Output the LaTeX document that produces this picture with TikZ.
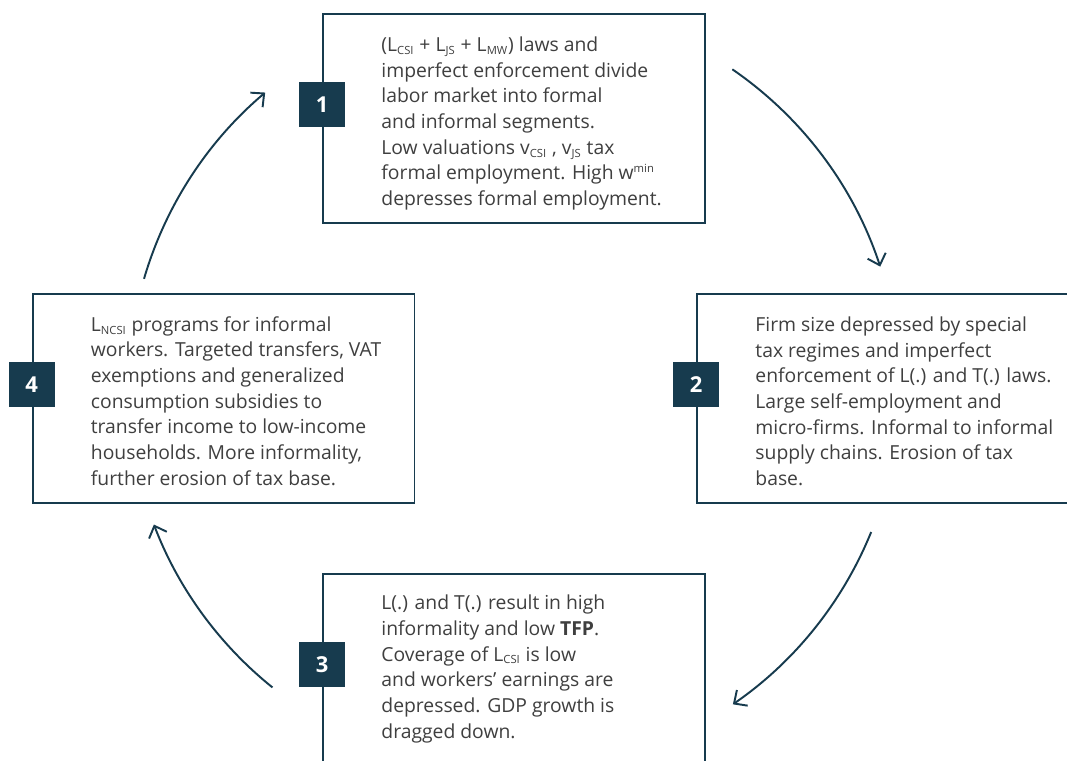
\documentclass[tikz,border=0pt]{standalone}
\usepackage{fontspec}
\setmainfont{Open Sans}
\usetikzlibrary{arrows.meta}
\definecolor{boxblue}{HTML}{173B4E}
\definecolor{txtgray}{HTML}{3F3F3F}
\newcommand{\lsub}[1]{\textsubscript{\fontsize{6.4}{6}\selectfont #1}}
\newcommand{\lsup}[1]{\textsuperscript{\fontsize{6.4}{6}\selectfont #1}}
\begin{document}
\begin{tikzpicture}[x=0.02cm, y=-0.02cm,
	cyclebox/.style={draw=boxblue, line width=1.1pt, inner sep=0pt, minimum width=7.64cm, minimum height=4.18cm},
	boxtext/.style={anchor=base west, align=left, inner sep=0pt, text=txtgray, font=\fontsize{11}{14.6}\selectfont},
	numbox/.style={fill=boxblue, text=white, minimum width=0.92cm, minimum height=0.9cm, inner sep=0pt, font=\fontsize{12.5}{14}\selectfont\bfseries},
	arr/.style={draw=boxblue, line width=1.1pt, -{Straight Barb[length=2mm, width=3.8mm, line width=1.1pt]}}]
	\clip (0,0) rectangle (1067,760);
	\fill[white] (0,0) rectangle (1067,760);
	
	\node[cyclebox] (box1) at (514,118.5) {};
	\node[cyclebox] (box2) at (888,398.5) {};
	\node[cyclebox] (box3) at (514,678.5) {};
	\node[cyclebox] (box4) at (223.5,398.5) {};
	
	\node[boxtext] (txt1) at ([shift={(59,192.5)}]box1.north west) {(L\lsub{CSI} + L\lsub{JS} + L\lsub{MW}) laws and\\imperfect enforcement divide\\labor market into formal\\and informal segments.\\Low valuations v\lsub{CSI} , v\lsub{JS} tax\\formal employment. High w\lsup{min}\\depresses formal employment.};
	\node[boxtext] (txt2) at ([shift={(59,192.5)}]box2.north west) {Firm size depressed by special\\tax regimes and imperfect\\enforcement of L(.) and T(.) laws.\\Large self-employment and\\micro-firms. Informal to informal\\supply chains. Erosion of tax\\base.};
	\node[boxtext] (txt3) at ([shift={(59,165)}]box3.north west) {L(.) and T(.) result in high\\informality and low \textbf{TFP}.\\Coverage of L\lsub{CSI} is low\\and workers’ earnings are\\depressed. GDP growth is\\dragged down.};
	\node[boxtext] (txt4) at ([shift={(59,192)}]box4.north west) {L\lsub{NCSI} programs for informal\\workers. Targeted transfers, VAT\\exemptions and generalized\\consumption subsidies to\\transfer income to low-income\\households. More informality,\\further erosion of tax base.};
	
	\node[numbox] (num1) at ([yshift=-1.83cm]box1.north west) {1};
	\node[numbox] (num2) at ([yshift=-1.83cm]box2.north west) {2};
	\node[numbox] (num3) at ([yshift=-1.83cm]box3.north west) {3};
	\node[numbox] (num4) at ([yshift=-1.83cm]box4.north west) {4};
	
	\coordinate (ctr) at (514,387);
	\coordinate (a12) at ([shift={(-55.5:385.5)}]ctr);
	\coordinate (a23) at ([shift={(22.1:385.5)}]ctr);
	\coordinate (a34) at ([shift={(128.8:385.5)}]ctr);
	\coordinate (a41) at ([shift={(196.3:385.5)}]ctr);
	\draw[arr] (a12) arc[start angle=-55.5, end angle=-18.2, radius=385.5];
	\draw[arr] (a23) arc[start angle=22.1, end angle=55.4, radius=385.5];
	\draw[arr] (a34) arc[start angle=128.8, end angle=159.1, radius=385.5];
	\draw[arr] (a41) arc[start angle=196.3, end angle=229.8, radius=385.5];
\end{tikzpicture}
\end{document}
